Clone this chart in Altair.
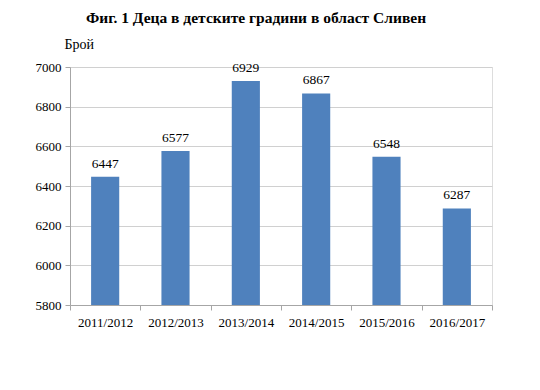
import altair as alt
import pandas as pd

years = ["2011/2012", "2012/2013", "2013/2014", "2014/2015", "2015/2016", "2016/2017"]
values = [6447, 6577, 6929, 6867, 6548, 6287]
y_ticks = [5800, 6000, 6200, 6400, 6600, 6800, 7000]
base_value = 5800

df = pd.DataFrame({"year": years, "value": values})

FONT = "Liberation Serif"

x = alt.X("year:N", sort=years, title=None,
          scale=alt.Scale(paddingInner=0, paddingOuter=0),
          axis=alt.Axis(labelAngle=0, tickBand="extent", domainColor="#a6a6a6",
                        tickColor="#a6a6a6", tickSize=5, labelFont=FONT,
                        labelFontSize=13, labelColor="#000000", labelPadding=6))
y = alt.Y("value:Q", title="Брой",
          scale=alt.Scale(domain=[5800, 7000], zero=False, nice=False),
          axis=alt.Axis(values=y_ticks, format="d", labelOverlap=False,
                        gridColor="#d0d0d0", domainColor="#a6a6a6", tickColor="#a6a6a6",
                        tickSize=5, labelFont=FONT, labelFontSize=13, labelColor="#000000",
                        labelPadding=4, titleAngle=0, titleAlign="left", titleBaseline="bottom",
                        titleX=-6, titleY=-16, titleFont=FONT, titleFontSize=14,
                        titleFontWeight="normal", titleColor="#000000"))

base = alt.Chart(df).encode(x=x, y=y)
bars = base.mark_bar(color="#4f81bd", width=alt.RelativeBandSize(0.4)).encode(
    y2=alt.datum(base_value))
labels = base.mark_text(baseline="bottom", dy=-6, font=FONT, fontSize=13.5,
                        color="#000000").encode(text=alt.Text("value:Q", format="d"))

chart = (bars + labels).properties(
    width=422, height=238,
    title=alt.TitleParams("Фиг. 1 Деца в детските градини в област Сливен",
                          font=FONT, fontSize=15.5, fontWeight="bold", color="#000000",
                          anchor="middle", dx=-25, offset=11),
    autosize=alt.AutoSizeParams(type="none"),
    padding={"left": 70, "top": 67, "right": 48, "bottom": 85},
).configure_view(stroke=None).configure(background="#ffffff")

chart.save("out.html", embed_options={"renderer": "svg", "actions": False})
